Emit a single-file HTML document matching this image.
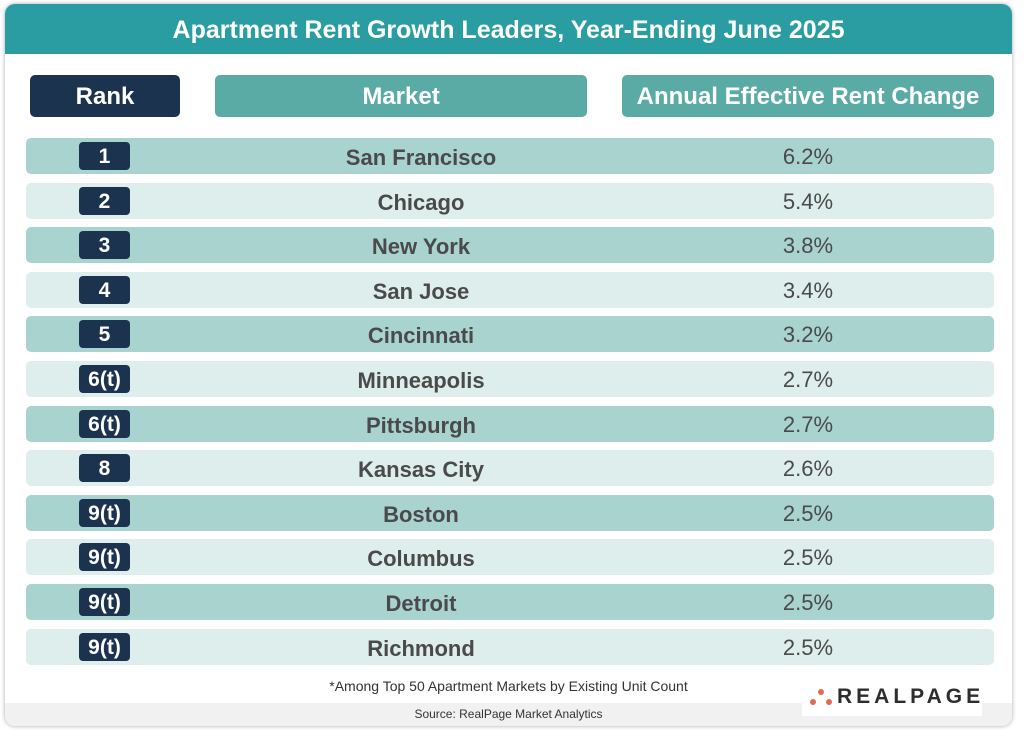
<!DOCTYPE html><html><head><style>
body{margin:0;width:1024px;height:742px;background:#fff;font-family:"Liberation Sans",sans-serif;position:relative;overflow:hidden}
.card{position:absolute;left:5px;top:4px;width:1007px;height:722px;border-radius:10px;box-shadow:0 0 4px rgba(0,0,0,.35);overflow:hidden;background:#fff}
.hd{position:absolute;left:0;top:0;width:100%;height:50px;background:#2a9da3;color:#fff;font-weight:bold;font-size:25px;text-align:center;line-height:52px}
.ch{position:absolute;top:71px;height:42px;border-radius:5px;color:#fff;font-size:24px;font-weight:bold;text-align:center;line-height:44px}
.row{position:absolute;left:21px;width:968px;height:36px;border-radius:5px;color:#4a4a4a;font-size:22px;font-weight:bold}
.row .b{position:absolute;left:53px;top:4px;width:51px;height:28px;background:#1c3350;border-radius:4px;color:#fff;text-align:center;line-height:29px;font-size:21px}
.row .m{position:absolute;left:209px;width:372px;text-align:center;line-height:40px}
.row .v{position:absolute;left:596px;width:372px;text-align:center;line-height:38px;font-weight:normal}
.foot{position:absolute;left:0;top:699px;width:100%;height:23px;background:#f1f1f1;font-size:12px;color:#333;text-align:center;line-height:22px}
</style></head><body><div class="card">
<div class="hd">Apartment Rent Growth Leaders, Year-Ending June 2025</div>
<div class="ch" style="left:25px;width:150px;background:#1c3350">Rank</div>
<div class="ch" style="left:210px;width:372px;background:#5aaaa5">Market</div>
<div class="ch" style="left:617px;width:372px;background:#5aaaa5">Annual Effective Rent Change</div>
<div id="rows"></div>
<div style="position:absolute;left:0;width:1007px;top:674px;text-align:center;font-size:14px;color:#333">*Among Top 50 Apartment Markets by Existing Unit Count</div>
<div class="foot">Source: RealPage Market Analytics</div>
<div style="position:absolute;left:797px;top:676px;width:180px;height:36px;background:#fff"></div>
<svg style="position:absolute;left:804px;top:684px" width="24" height="20"><circle cx="12" cy="4" r="3" fill="#e56a4b"/><circle cx="4" cy="14" r="3" fill="#e56a4b"/><circle cx="20" cy="14" r="3" fill="#e56a4b"/></svg>
<div style="position:absolute;left:832px;top:681px;font-size:21px;font-weight:bold;letter-spacing:4px;color:#2d2d2d">REALPAGE</div>
</div>
<script>
var d=[["1","San Francisco","6.2%"],["2","Chicago","5.4%"],["3","New York","3.8%"],["4","San Jose","3.4%"],["5","Cincinnati","3.2%"],["6(t)","Minneapolis","2.7%"],["6(t)","Pittsburgh","2.7%"],["8","Kansas City","2.6%"],["9(t)","Boston","2.5%"],["9(t)","Columbus","2.5%"],["9(t)","Detroit","2.5%"],["9(t)","Richmond","2.5%"]];
var h="";d.forEach(function(r,i){h+='<div class="row" style="top:'+(134+i*44.6)+'px;background:'+(i%2?'#deeeec':'#a8d3cf')+'"><div class="b">'+r[0]+'</div><div class="m">'+r[1]+'</div><div class="v">'+r[2]+'</div></div>'});
document.getElementById("rows").innerHTML=h;
</script></body></html>
